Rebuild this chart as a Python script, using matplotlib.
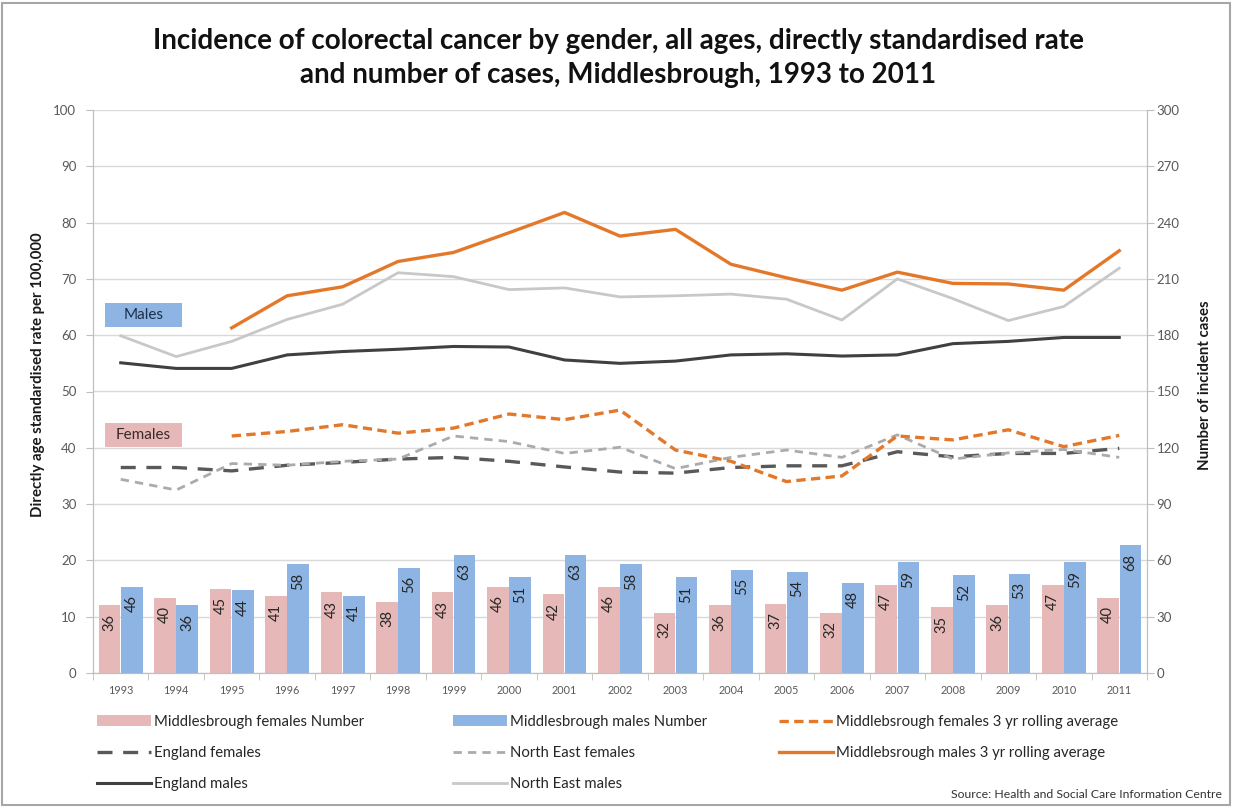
import matplotlib
matplotlib.use("Agg")
import matplotlib.pyplot as plt
import numpy as np
from matplotlib.patches import Patch, Rectangle

plt.rcParams['font.family'] = ['Lato', 'DejaVu Sans']

# ---- data -------------------------------------------------------------
years = ['1993', '1994', '1995', '1996', '1997', '1998', '1999', '2000', '2001', '2002',
         '2003', '2004', '2005', '2006', '2007', '2008', '2009', '2010', '2011']

mbro_female_cases = [36, 40, 45, 41, 43, 38, 43, 46, 42, 46, 32, 36, 37, 32, 47, 35, 36, 47, 40]
mbro_male_cases = [46, 36, 44, 58, 41, 56, 63, 51, 63, 58, 51, 55, 54, 48, 59, 52, 53, 59, 68]

# 3 year rolling averages start in 1995
mbro_female_rolling = [None, None, 42.1, 42.9, 44.1, 42.6, 43.5, 46.0, 45.0, 46.7,
                       39.6, 37.6, 34.0, 35.0, 42.1, 41.4, 43.2, 40.2, 42.2]
mbro_male_rolling = [None, None, 61.3, 67.0, 68.6, 73.1, 74.7, 78.2, 81.8, 77.6,
                     78.8, 72.6, 70.2, 68.0, 71.2, 69.2, 69.1, 68.0, 75.0]

england_females = [36.5, 36.5, 35.9, 36.9, 37.4, 38.0, 38.3, 37.6, 36.6, 35.7,
                   35.5, 36.5, 36.8, 36.8, 39.3, 38.4, 39.0, 39.0, 39.9]
north_east_females = [34.4, 32.5, 37.2, 36.9, 37.6, 38.0, 42.1, 41.1, 39.0, 40.1,
                      36.3, 38.3, 39.6, 38.3, 42.3, 38.0, 39.1, 39.7, 38.3]
england_males = [55.1, 54.1, 54.1, 56.5, 57.1, 57.5, 58.0, 57.9, 55.6, 55.0,
                 55.4, 56.5, 56.7, 56.3, 56.5, 58.5, 58.9, 59.6, 59.6]
north_east_males = [59.9, 56.2, 58.9, 62.8, 65.5, 71.1, 70.4, 68.1, 68.4, 66.8,
                    67.0, 67.3, 66.4, 62.7, 70.0, 66.5, 62.6, 65.1, 71.9]

rate_ticks = list(range(0, 101, 10))
count_ticks = list(range(0, 301, 30))

# ---- colours ----------------------------------------------------------
PINK = '#E6B9B8'
BLUE = '#8DB4E2'
ORANGE = '#E3782A'
DARK = '#404040'
DARK_DASH = '#595959'
LIGHT = '#C8C8C8'
LIGHT_DASH = '#ABABAB'
GRID = '#D9D9D9'
TICK_TXT = '#595959'

W, H = 1233, 808
fig = plt.figure(figsize=(W / 100, H / 100), dpi=100)
fig.patch.set_facecolor('white')

left_px, right_px, top_px, bottom_px = 93, 1147, 110, 673
ax = fig.add_axes([left_px / W, 1 - bottom_px / H,
                   (right_px - left_px) / W, (bottom_px - top_px) / H])
ax2 = ax.twinx()

x = np.arange(len(years))

# rate axis (left)
ax.set_xlim(-0.5, len(years) - 0.5)
ax.set_ylim(0, 100)
ax.set_yticks(rate_ticks)

# count axis (right) carries the bars and the horizontal gridlines
ax2.set_ylim(0, 300)
ax2.set_yticks(count_ticks)
ax2.grid(axis='y', color=GRID, lw=1.0, zorder=0)
ax2.set_axisbelow(True)

bw = 0.39
fb = ax2.bar(x - 0.2, mbro_female_cases, width=bw, color=PINK, zorder=2)
mb = ax2.bar(x + 0.2, mbro_male_cases, width=bw, color=BLUE, zorder=2)

for bars, vals in ((fb, mbro_female_cases), (mb, mbro_male_cases)):
    for rect, v in zip(bars, vals):
        ax2.annotate(str(v), (rect.get_x() + rect.get_width() / 2, v),
                     xytext=(0, -6), textcoords='offset points',
                     rotation=90, ha='center', va='top', fontsize=10.5,
                     color='#262626', zorder=3)


def series(vals):
    return np.array([np.nan if v is None else v for v in vals], dtype=float)


l_ef, = ax.plot(x, series(england_females), color=DARK_DASH, lw=2.4,
                dashes=(4.5, 3.2), label='England females')
l_nef, = ax.plot(x, series(north_east_females), color=LIGHT_DASH, lw=2.0,
                 dashes=(3, 2.2), label='North East females')
l_em, = ax.plot(x, series(england_males), color=DARK, lw=2.2, label='England males')
l_nem, = ax.plot(x, series(north_east_males), color=LIGHT, lw=2.0, label='North East males')
l_mfr, = ax.plot(x, series(mbro_female_rolling), color=ORANGE, lw=2.4,
                 dashes=(2.8, 1.6), label='Middlebsrough females 3 yr rolling average')
l_mmr, = ax.plot(x, series(mbro_male_rolling), color=ORANGE, lw=2.4,
                 label='Middlebsrough males 3 yr rolling average')

# lines sit above the bar axis
ax.set_zorder(ax2.get_zorder() + 1)
ax.patch.set_visible(False)

# "Males" / "Females" tags
for (y0, y1, txt, col, tcol) in ((61.5, 65.7, 'Males', BLUE, '#1F2F4A'),
                                 (40.2, 44.4, 'Females', PINK, '#3A2A2A')):
    ax.add_patch(Rectangle((-0.284, y0), 1.388, y1 - y0, facecolor=col,
                           edgecolor='none', zorder=4))
    ax.text(-0.284 + 0.694, (y0 + y1) / 2, txt, ha='center', va='center',
            fontsize=11, color=tcol, zorder=5)

# ---- axes styling ------------------------------------------------------
for a in (ax, ax2):
    for s in a.spines.values():
        s.set_color('#BFBFBF')
    a.spines['top'].set_visible(False)

ax.set_xticks(x)
ax.set_xticklabels(years, fontsize=7.8, color=TICK_TXT)
ax.set_xticks(np.arange(-0.5, len(years), 1.0), minor=True)
ax.tick_params(axis='x', which='major', length=0, pad=9)
ax.tick_params(axis='x', which='minor', length=5, color='#BFBFBF')
ax.tick_params(axis='y', length=5, color='#BFBFBF', labelsize=9.5,
               labelcolor=TICK_TXT, pad=7)
ax2.tick_params(axis='y', length=5, color='#BFBFBF', labelsize=9.5,
                labelcolor=TICK_TXT, pad=2)

# axis titles
fig.text(38 / W, 1 - 375 / H, 'Directly age standardised rate per 100,000',
         rotation=90, ha='center', va='center', fontsize=10.8,
         fontweight='bold', color='#1A1A1A')
fig.text(1205 / W, 1 - 385 / H, 'Number of incident cases',
         rotation=90, ha='center', va='center', fontsize=10.8,
         fontweight='bold', color='#1A1A1A')

# title
fig.text(618 / W, 1 - 58 / H,
         'Incidence of colorectal cancer by gender, all ages, directly standardised rate\n'
         'and number of cases, Middlesbrough, 1993 to 2011',
         ha='center', va='center', fontsize=20, fontweight='bold',
         color='#111111', linespacing=1.38)

# ---- legend: three equal-width columns ---------------------------------
cols = [
    [Patch(facecolor=PINK, label='Middlesbrough females Number'), l_ef, l_em],
    [Patch(facecolor=BLUE, label='Middlesbrough males Number'), l_nef, l_nem],
    [l_mfr, l_mmr],
]
for cx, handles in zip((97, 453, 779), cols):
    leg = fig.legend(handles=handles, loc='upper left',
                     bbox_to_anchor=(cx / W, 1 - 715 / H), frameon=False,
                     fontsize=10.7, handlelength=3.6, handleheight=0.75,
                     handletextpad=0.25, labelspacing=1.15, borderpad=0,
                     borderaxespad=0)
    for t in leg.get_texts():
        t.set_color('#262626')

fig.text(1222 / W, 1 - 795 / H, 'Source: Health and Social Care Information Centre',
         ha='right', va='center', fontsize=8.8, color='#333333')

# outer frame
fig.add_artist(Rectangle((2 / W, 3 / H), (W - 5) / W, (H - 6) / H,
                         transform=fig.transFigure, fill=False,
                         edgecolor='#A6A6A6', lw=1.5))

fig.savefig('out.png', dpi=100)
